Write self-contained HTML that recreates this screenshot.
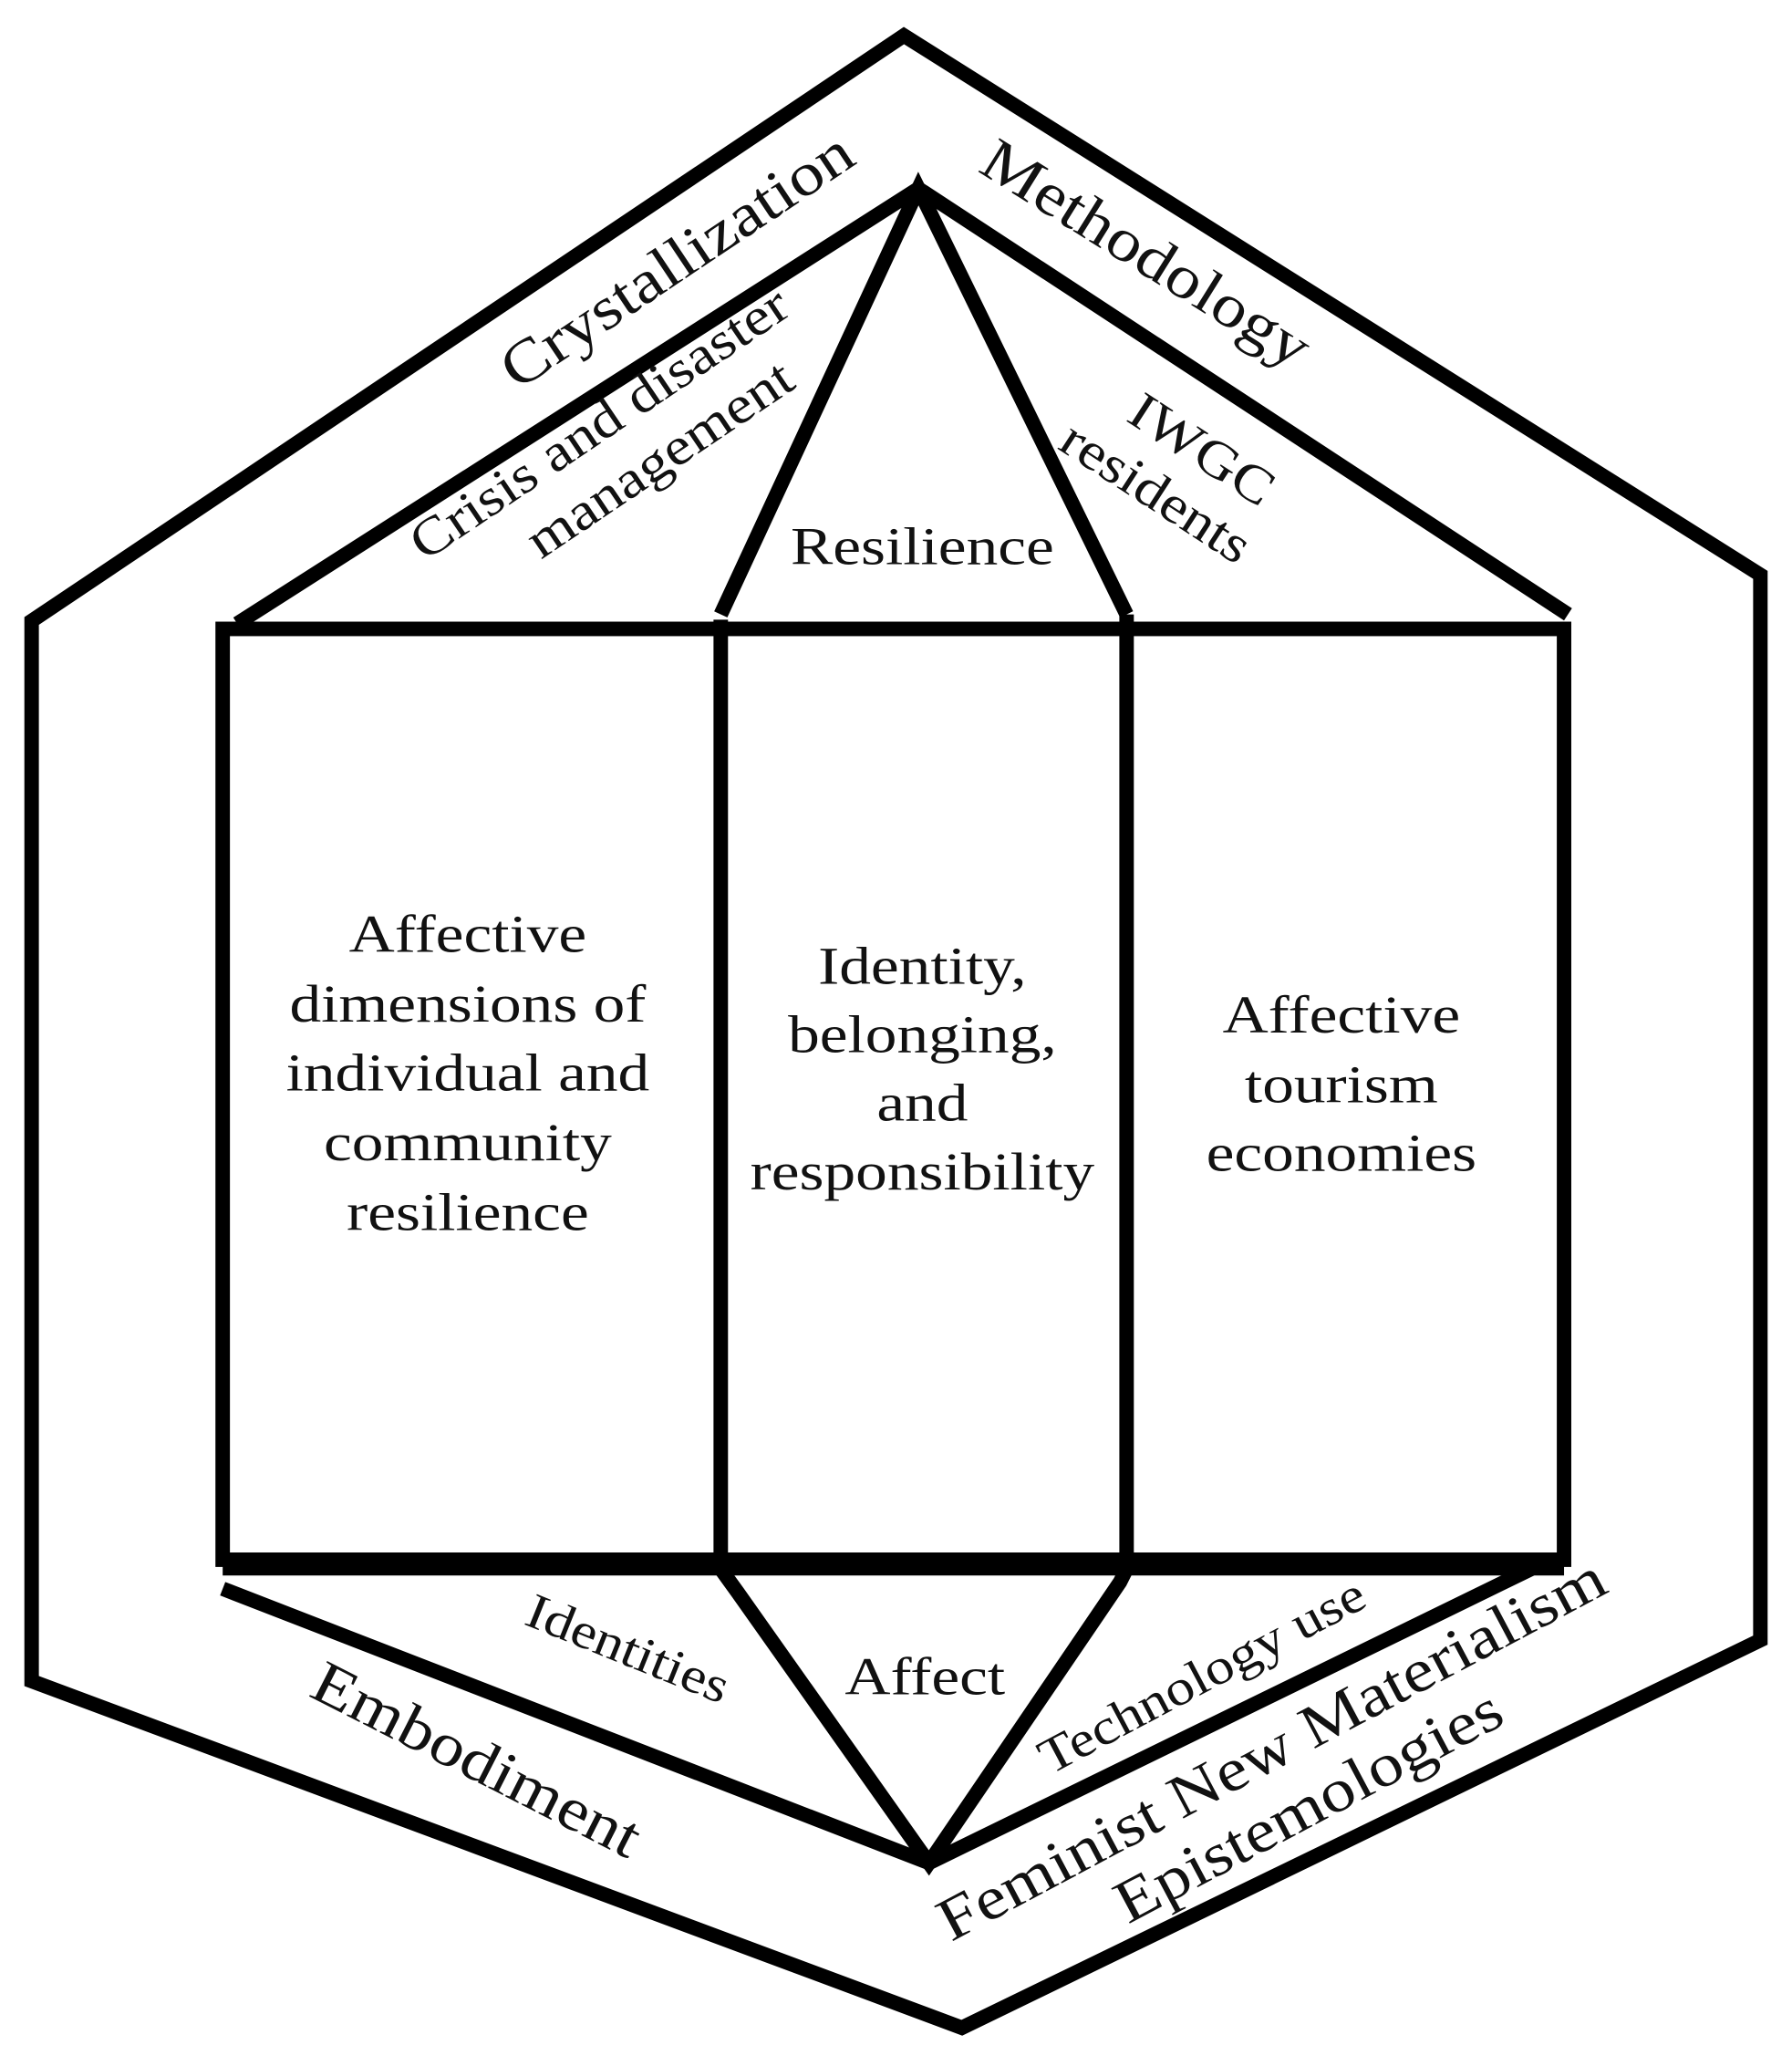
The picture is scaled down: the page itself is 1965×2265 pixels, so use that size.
<!DOCTYPE html>
<html><head><meta charset="utf-8"><style>
html,body{margin:0;padding:0;background:#fff;}
svg{display:block;}
text{font-family:"Liberation Serif",serif;fill:#111;}
</style></head><body>
<svg width="1965" height="2265" viewBox="0 0 1360 1567" preserveAspectRatio="none" xmlns="http://www.w3.org/2000/svg">
<g fill="none" stroke="#000" stroke-width="11" stroke-linejoin="miter">
<polygon points="686,27 1336,436 1336,1244 730,1538 24,1275 24,471"/>
<polyline points="180,473 697,143 1190,466"/>
<rect x="169" y="477" width="1018" height="706"/>
<line x1="547" y1="470" x2="547" y2="1183"/>
<line x1="855" y1="466" x2="855" y2="1183"/>
<polyline points="547,466 697,143 855,466"/>
<line x1="169" y1="1187" x2="1187" y2="1187" stroke-width="16"/>
<polyline points="547,1190 560,1208 705,1413 850,1200 855,1190"/>
<polyline points="169,1205 705,1413 1162,1190"/>
</g>
<g font-size="46" text-anchor="middle">
<text transform="translate(522,210) rotate(-33.8) scale(1.15,1)">Crystallization</text>
<text transform="translate(862,205) rotate(32) scale(1.15,1)">Methodology</text>
<text transform="translate(462,332) rotate(-34) scale(1.15,1)" font-size="40"><tspan x="0" y="0">Crisis and disaster</tspan><tspan x="20" y="48">management</tspan></text>
<text transform="translate(905,352) rotate(33) scale(1.15,1)" font-size="40"><tspan x="0" y="0">IWGC</tspan><tspan x="-10" y="46">residents</tspan></text>
<text transform="translate(700,428) scale(1.2,1)" font-size="40">Resilience</text>
<text transform="translate(355,1348) rotate(27) scale(1.15,1)">Embodiment</text>
<text transform="translate(472,1262) rotate(22) scale(1.15,1)" font-size="38">Identities</text>
<text transform="translate(702,1285) scale(1.2,1)" font-size="40">Affect</text>
<text transform="translate(918,1282) rotate(-28) scale(1.15,1)" font-size="38">Technology use</text>
<text transform="translate(972,1340) rotate(-28) scale(1.15,1)">Feminist New Materialism</text>
<text transform="translate(1000,1383) rotate(-28) scale(1.15,1)">Epistemologies</text>
</g>
<g font-size="40" text-anchor="middle">
<g transform="translate(355,0) scale(1.2,1)">
<text x="0" y="722">Affective</text>
<text x="0" y="775">dimensions of</text>
<text x="0" y="827">individual and</text>
<text x="0" y="880">community</text>
<text x="0" y="933">resilience</text>
</g>
<g transform="translate(700,0) scale(1.2,1)">
<text x="0" y="746">Identity,</text>
<text x="0" y="798">belonging,</text>
<text x="0" y="850">and</text>
<text x="0" y="902">responsibility</text>
</g>
<g transform="translate(1018,0) scale(1.2,1)">
<text x="0" y="783">Affective</text>
<text x="0" y="836">tourism</text>
<text x="0" y="888">economies</text>
</g>
</g>
</svg>
</body></html>
